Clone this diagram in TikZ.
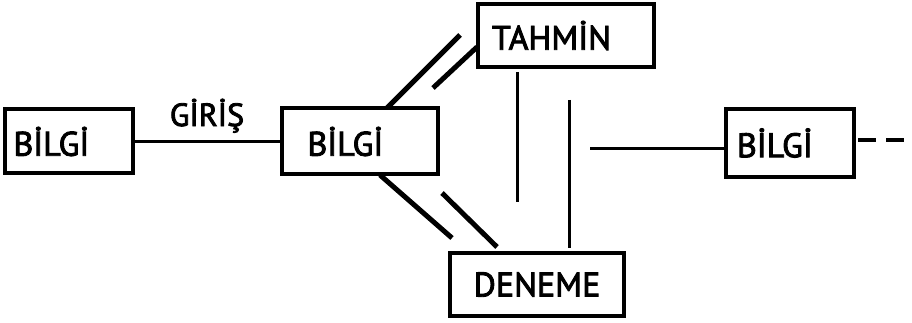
\documentclass[tikz,border=0pt]{standalone}
\usepackage{fontspec}
\setmainfont{PT Sans}
\newfontfamily\kalin{PT Sans}[FakeBold=2.6]
\begin{document}
\begin{tikzpicture}[x=1pt,y=-1pt,
	kutu/.style={draw, line width=4pt, font=\fontsize{34}{40}\kalin, inner ysep=0pt},
	cizgi/.style={line width=5pt},
	ince/.style={line width=3pt}]
	
	\useasboundingbox (0,0) rectangle (912,323);
	
	\node[kutu, align=left, inner xsep=9pt, text width=110pt, minimum height=64pt] (bilgi1) at (68.5,141.5) {BİLGİ};
	\node[kutu, align=left, inner xsep=26pt, text width=104pt, minimum height=66pt] (bilgi2) at (359.5,141.5) {BİLGİ};
	\node[kutu, align=left, inner xsep=14pt, text width=148pt, minimum height=63pt] (tahmin) at (566,35.5) {TAHMİN};
	\node[kutu, align=center, text width=150pt, inner xsep=12pt, minimum height=63pt] (deneme) at (537,284.5) {DENEME};
	\node[kutu, align=left, inner xsep=11pt, text width=106pt, minimum height=68pt] (bilgi3) at (790,143) {BİLGİ};
	
	% giris
	\draw[ince] (bilgi1) -- node[above=4pt, font=\fontsize{32}{38}\kalin] {GİRİŞ} (bilgi2);
	
	% bilgi - tahmin
	\coordinate (t1) at (387,108);
	\coordinate (t2) at (460,35);
	\coordinate (t3) at (433,88);
	\coordinate (t4) at (477,47);
	\draw[cizgi] (t1) -- (t2);
	\draw[cizgi] (t3) -- (t4);
	
	% bilgi - deneme
	\coordinate (d1) at (380,175);
	\coordinate (d2) at (452,238);
	\coordinate (d3) at (442,193);
	\coordinate (d4) at (497,247);
	\draw[cizgi] (d1) -- (d2);
	\draw[cizgi] (d3) -- (d4);
	
	% tahmin - deneme
	\draw[ince] (517,72) -- (517,202);
	\draw[ince] (569,100) -- (569,248);
	
	\coordinate (s) at (590,149);
	\draw[ince] (s) -- (s -| bilgi3.west);
	\draw[line width=4pt, dash pattern=on 18pt off 10pt] ([xshift=2pt,yshift=3pt]bilgi3.east) -- ++(48,0);
	
\end{tikzpicture}
\end{document}
